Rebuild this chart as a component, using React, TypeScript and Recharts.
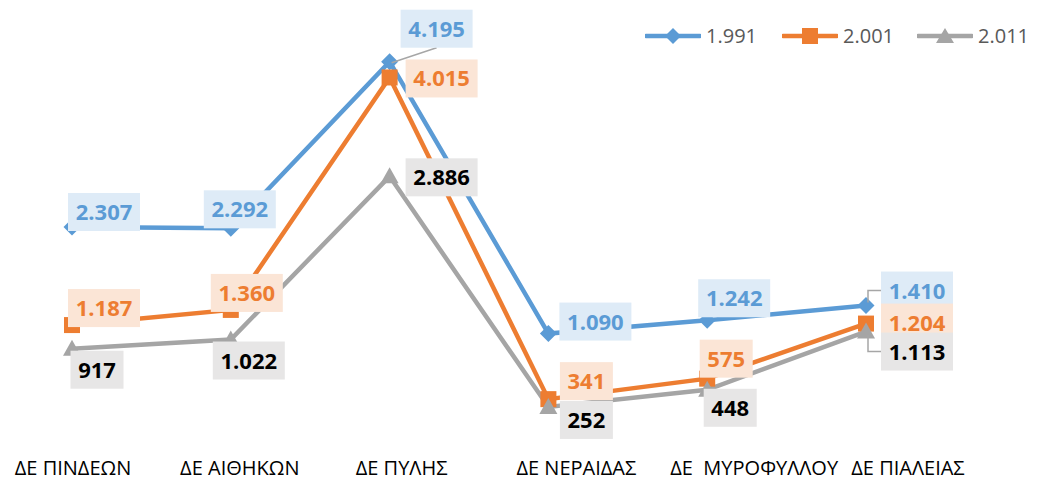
import { LineChart, Line, XAxis, YAxis } from "recharts";

const CATEGORIES = ["ΔΕ ΠΙΝΔΕΩΝ", "ΔΕ ΑΙΘΗΚΩΝ", "ΔΕ ΠΥΛΗΣ", "ΔΕ ΝΕΡΑΙΔΑΣ", "ΔΕ  ΜΥΡΟΦΥΛΛΟΥ", "ΔΕ ΠΙΑΛΕΙΑΣ"];
const Y1991 = [2307, 2292, 4195, 1090, 1242, 1410];
const Y2001 = [1187, 1360, 4015, 341, 575, 1204];
const Y2011 = [917, 1022, 2886, 252, 448, 1113];
const SERIES_NAMES = ["1.991", "2.001", "2.011"];

const FONT = "'Open Sans', sans-serif";
const BLUE = "#5B9BD5";
const ORANGE = "#ED7D31";
const GRAY = "#A5A5A5";

// label box center offsets from the point (dx, dy), hand-placed like the excel original
const LABEL_OFFSETS: Record<string, [number, number][]> = {
  y1991: [[32, -15], [9, -19], [47, -33], [47, -12], [27, -22], [51, -15]],
  y2001: [[32, -17], [16, -17], [52, 1], [38, -18], [19, -20], [51, -1]],
  y2011: [[25, 21], [18, 21], [52, 1], [38, 13], [23, 18], [51, 20]],
};
const TICK_DX = [1, 9, 12, 28, 47, 42];

const rows = CATEGORIES.map((name, i) => ({ name, y1991: Y1991[i], y2001: Y2001[i], y2011: Y2011[i] }));

function fmt(v: number) {
  if (v < 1000) return String(v);
  return `${Math.floor(v / 1000)}.${String(v % 1000).padStart(3, "0")}`;
}

function Diamond({ cx, cy }: any) {
  if (cx == null) return null;
  const s = 8.5;
  return <polygon points={`${cx},${cy - s} ${cx + s},${cy} ${cx},${cy + s} ${cx - s},${cy}`} fill={BLUE} />;
}

function Square({ cx, cy }: any) {
  if (cx == null) return null;
  return <rect x={cx - 8} y={cy - 8} width={16} height={16} fill={ORANGE} />;
}

function Triangle({ cx, cy }: any) {
  if (cx == null) return null;
  return <polygon points={`${cx},${cy - 9} ${cx + 9},${cy + 7} ${cx - 9},${cy + 7}`} fill={GRAY} />;
}

function makeLabel(key: string, boxFill: string, color: string) {
  return (p: any) => {
    const { x, y, value, index } = p;
    const [dx, dy] = LABEL_OFFSETS[key][index];
    const text = fmt(value);
    const w = text.length > 3 ? 72 : 53;
    const h = 38;
    const cx = x + dx;
    const cy = y + dy;
    let leader = null;
    if (key === "y1991" && index === 2) {
      leader = <line x1={x + 2} y1={y + 1} x2={cx} y2={cy + h / 2} stroke="#A6A6A6" strokeWidth={1.5} />;
    } else if (key === "y1991" && index === 5) {
      leader = <polyline points={`${cx - w / 2},${cy} ${x + 2},${cy} ${x + 2},${y - 3}`} fill="none" stroke="#A6A6A6" strokeWidth={1.5} />;
    } else if (key === "y2011" && index === 5) {
      leader = <polyline points={`${cx - w / 2},${cy} ${x + 2},${cy} ${x + 2},${y + 3}`} fill="none" stroke="#A6A6A6" strokeWidth={1.5} />;
    }
    return (
      <g>
        {leader}
        <rect x={cx - w / 2} y={cy - h / 2} width={w} height={h} fill={boxFill} />
        <text x={cx} y={cy + 8} textAnchor="middle" fontFamily={FONT} fontSize={22} fontWeight="bold" fill={color}>
          {text}
        </text>
      </g>
    );
  };
}

function Tick({ x, payload, index }: any) {
  return (
    <text x={x + TICK_DX[index]} y={475} textAnchor="middle" fontFamily={FONT} fontSize={20} fill="#000" style={{ whiteSpace: "pre" }}>
      {payload.value}
    </text>
  );
}

function LegendIcon({ kind, color }: { kind: number; color: string }) {
  return (
    <svg width={56} height={20} style={{ display: "block" }}>
      <line x1={1} y1={10} x2={55} y2={10} stroke={color} strokeWidth={4.5} strokeLinecap="round" />
      {kind === 0 && <polygon points="28,2 36,10 28,18 20,10" fill={color} />}
      {kind === 1 && <rect x={20} y={2} width={16} height={16} fill={color} />}
      {kind === 2 && <polygon points="28,2 37,17 19,17" fill={color} />}
    </svg>
  );
}

const LEGEND_COLORS = [BLUE, ORANGE, GRAY];
const LEGEND_X = [645, 782, 917];

export default function App() {
  return (
    <div style={{ position: "absolute", left: 0, top: 0, width: 1038, height: 482, background: "#fff" }}>
      <LineChart width={1038} height={482} data={rows} margin={{ top: 35, right: 172, bottom: 0, left: 72 }}>
        <XAxis dataKey="name" axisLine={false} tickLine={false} interval={0} height={53} tick={<Tick />} />
        <YAxis hide domain={[0, 4500]} />
        <Line dataKey="y1991" stroke={BLUE} strokeWidth={4.5} dot={<Diamond />} isAnimationActive={false}
          label={makeLabel("y1991", "#DEEBF7", BLUE)} />
        <Line dataKey="y2001" stroke={ORANGE} strokeWidth={4.5} dot={<Square />} isAnimationActive={false}
          label={makeLabel("y2001", "#FBE5D6", ORANGE)} />
        <Line dataKey="y2011" stroke={GRAY} strokeWidth={4.5} dot={<Triangle />} isAnimationActive={false}
          label={makeLabel("y2011", "#E7E6E6", "#000")} />
      </LineChart>
      {SERIES_NAMES.map((n, i) => (
        <div key={n} style={{ position: "absolute", left: LEGEND_X[i], top: 24, display: "flex", alignItems: "center", fontFamily: FONT, fontSize: 20, color: "#595959" }}>
          <LegendIcon kind={i} color={LEGEND_COLORS[i]} />
          <span style={{ marginLeft: 5, lineHeight: "24px" }}>{n}</span>
        </div>
      ))}
    </div>
  );
}
